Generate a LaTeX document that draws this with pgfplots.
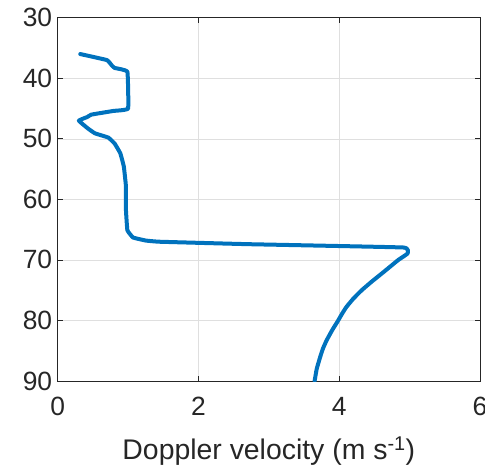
\documentclass[border=0pt]{standalone}
\usepackage{pgfplots}
\pgfplotsset{compat=1.18}
\usepackage{fontspec}
\setmainfont{Liberation Sans}
\definecolor{mblue}{RGB}{0,114,189}
\definecolor{mtext}{RGB}{38,38,38}
\definecolor{mgrid}{RGB}{223,223,223}
\pgfplotstableread{
x y
0.32 36.0
0.70 37.0
0.77 37.9
0.81 38.3
0.99 38.9
1.00 45.0
0.79 45.4
0.48 46.0
0.42 46.4
0.30 47.0
0.43 48.3
0.53 49.1
0.72 49.8
0.81 50.8
0.89 52.4
0.94 54.6
0.97 57.9
0.97 61.8
0.99 65.1
1.07 66.3
1.25 66.8
1.45 67.0
2.70 67.4
4.91 67.95
4.97 68.95
4.84 70.0
4.62 72.1
4.46 73.6
4.32 75.0
4.20 76.4
4.10 77.8
4.04 78.9
3.98 80.1
3.90 81.6
3.82 83.3
3.77 84.6
3.73 86.0
3.68 88.0
3.65 90.0
}\vel
\begin{document}
\begin{tikzpicture}
\begin{axis}[
  at={(0,0)}, anchor=south west,
  scale only axis,
  width=422.3bp, height=363.3bp,
  xmin=0, xmax=6, ymin=30, ymax=90,
  y dir=reverse,
  xtick={0,2,4,6}, ytick={30,40,50,60,70,80,90},
  grid=major,
  major grid style={mgrid, line width=0.6bp},
  axis line style={mtext, line width=0.8bp},
  tick style={mtext, line width=0.8bp},
  tick align=inside,
  major tick length=5bp,
  ticklabel style={font=\fontsize{26.5}{30}\selectfont, text=mtext},
  /pgf/number format/assume math mode=true,
  xticklabel style={yshift=-13bp},
  yticklabel style={xshift=-2bp},
  xlabel={Doppler velocity (m s\textsuperscript{-1})},
  xlabel style={font=\fontsize{28.5}{32}\selectfont, text=mtext, yshift=-14bp},
  clip=true,
]
\addplot[mblue, line width=4bp, line join=round, line cap=round, smooth, tension=0.15] table[x=x,y=y] {\vel};
\end{axis}
\pgfresetboundingbox
\path[use as bounding box] (-57.7bp,-87bp) rectangle (427.3bp,381bp);
\end{tikzpicture}
\end{document}
